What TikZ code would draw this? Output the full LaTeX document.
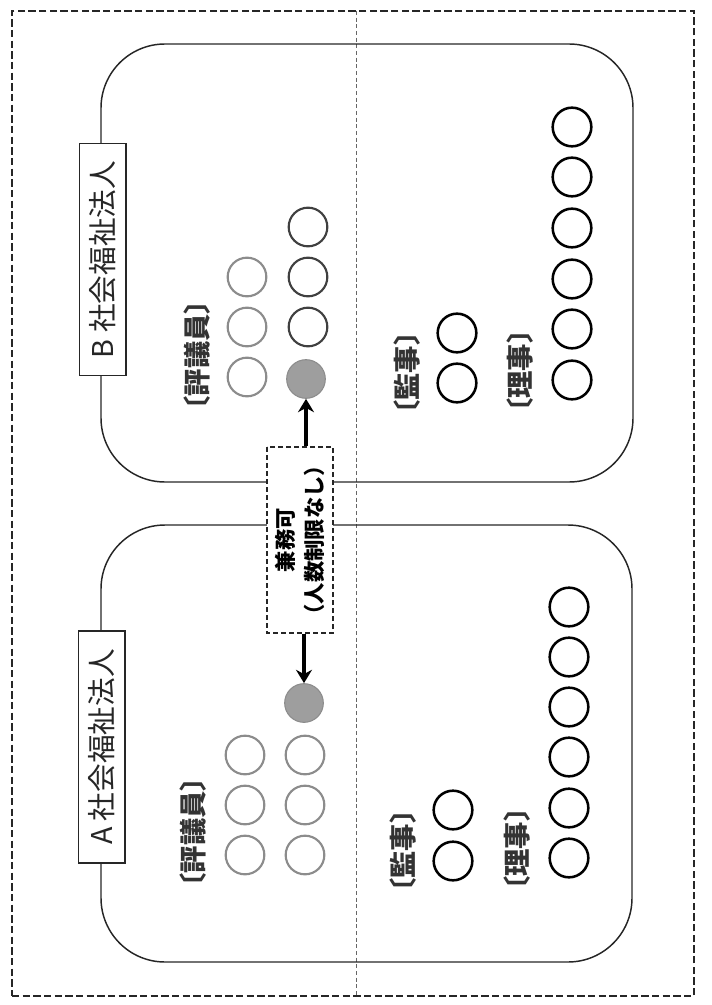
\documentclass[tikz,border=0pt]{standalone}
\usepackage{fontspec}
\setmainfont{Noto Sans CJK JP}
\usetikzlibrary{arrows.meta}
\tikzset{
  px/.style={x=0.75pt,y=-0.75pt},
  orgbox/.style={draw=black!85,line width=1.1pt,rounded corners=48pt,rectangle,inner sep=0pt},
  titlebox/.style={draw=black!85,fill=white,line width=1pt,rotate=90,minimum width=174pt,minimum height=35pt,inner sep=0pt,font=\fontsize{21.5}{24}\selectfont,text=black!85},
  lbl/.style={rotate=90,inner sep=0pt,text=black!80,font=\bfseries\fontsize{20.5}{24}\selectfont},
  pers/.style={circle,draw=black,line width=1.9pt,minimum size=29pt,inner sep=0pt},
  hyo/.style={circle,draw=black!45,line width=1.6pt,minimum size=29pt,inner sep=0pt},
  hyodark/.style={circle,draw=black!75,line width=1.6pt,minimum size=29pt,inner sep=0pt},
  kenmu/.style={circle,fill=black!38,draw=black!45,line width=0.8pt,minimum size=29pt,inner sep=0pt},
  midbox/.style={draw=black!85,dashed,dash pattern=on 4pt off 2pt,fill=white,line width=0.9pt,rotate=90,minimum width=139.5pt,minimum height=49.5pt,inner sep=0pt,align=center,font=\bfseries\fontsize{16}{22}\selectfont},
  arr/.style={line width=2.6pt,-{Stealth[length=10pt,width=12pt]}}
}
\begin{document}
\begin{tikzpicture}[px]
\useasboundingbox (0,0) rectangle (712,1005);
% outer dashed border
\node[draw=black!85,line width=1.3pt,dash pattern=on 5.5pt off 2.5pt,rectangle,inner sep=0pt,minimum width=511.5pt,minimum height=738.75pt] (frame) at (353,503.5) {};
% fold line
\coordinate (foldtop) at (356,11);
\coordinate (foldbot) at (356,996);
\draw[black!60,line width=0.6pt,dash pattern=on 3pt off 2pt] (foldtop) -- (foldbot);
% organisation boxes
\node[orgbox,minimum width=399pt,minimum height=328.5pt] (boxB) at (367,263) {};
\node[orgbox,minimum width=398.25pt,minimum height=327.75pt] (boxA) at (366.5,743.5) {};
% titles
\node[titlebox] (titleB) at (102.5,259.5) {B 社会福祉法人};
\node[titlebox] (titleA) at (101.5,747) {A 社会福祉法人};
% labels
\node[lbl] (lhyoB) at (197,355) {〔評議員〕};
\node[lbl] (lhyoA) at (193,832) {〔評議員〕};
\node[lbl] (lkanB) at (407,373) {〔監事〕};
\node[lbl] (lkanA) at (403,851) {〔監事〕};
\node[lbl] (lriB) at (520,371) {〔理事〕};
\node[lbl] (lriA) at (517,849) {〔理事〕};
% B councillors
\node[hyo] (hB11) at (247,277) {};
\node[hyo] (hB12) at (247,327) {};
\node[hyo] (hB13) at (247,377) {};
\node[hyodark] (hB21) at (308,227) {};
\node[hyodark] (hB22) at (308,277) {};
\node[hyodark] (hB23) at (308,327) {};
\node[kenmu] (gB) at (306,379) {};
% A councillors
\node[hyo] (hA11) at (245,755) {};
\node[hyo] (hA12) at (245,805) {};
\node[hyo] (hA13) at (245,855) {};
\node[hyo] (hA21) at (305,755) {};
\node[hyo] (hA22) at (305,805) {};
\node[hyo] (hA23) at (305,855) {};
\node[kenmu] (gA) at (304,703) {};
% auditors
\node[pers] (kB1) at (457,333) {};
\node[pers] (kB2) at (457,383) {};
\node[pers] (kA1) at (453,810) {};
\node[pers] (kA2) at (453,861) {};
% directors B
\foreach \i/\y in {1/127,2/177,3/228,4/279,5/329,6/380}{
  \node[pers] (rB\i) at (572,\y) {};
}
% directors A
\foreach \i/\y in {1/607,2/657,3/707,4/757,5/808,6/858}{
  \node[pers] (rA\i) at (569,\y) {};
}
% middle box
\node[midbox] (mid) at (300,540) {兼務可\\（人数制限なし）};
% arrows
\draw[arr] (mid.east -| gB) -- (gB);
\draw[arr] (mid.west -| gA) -- (gA);
\end{tikzpicture}
\end{document}
